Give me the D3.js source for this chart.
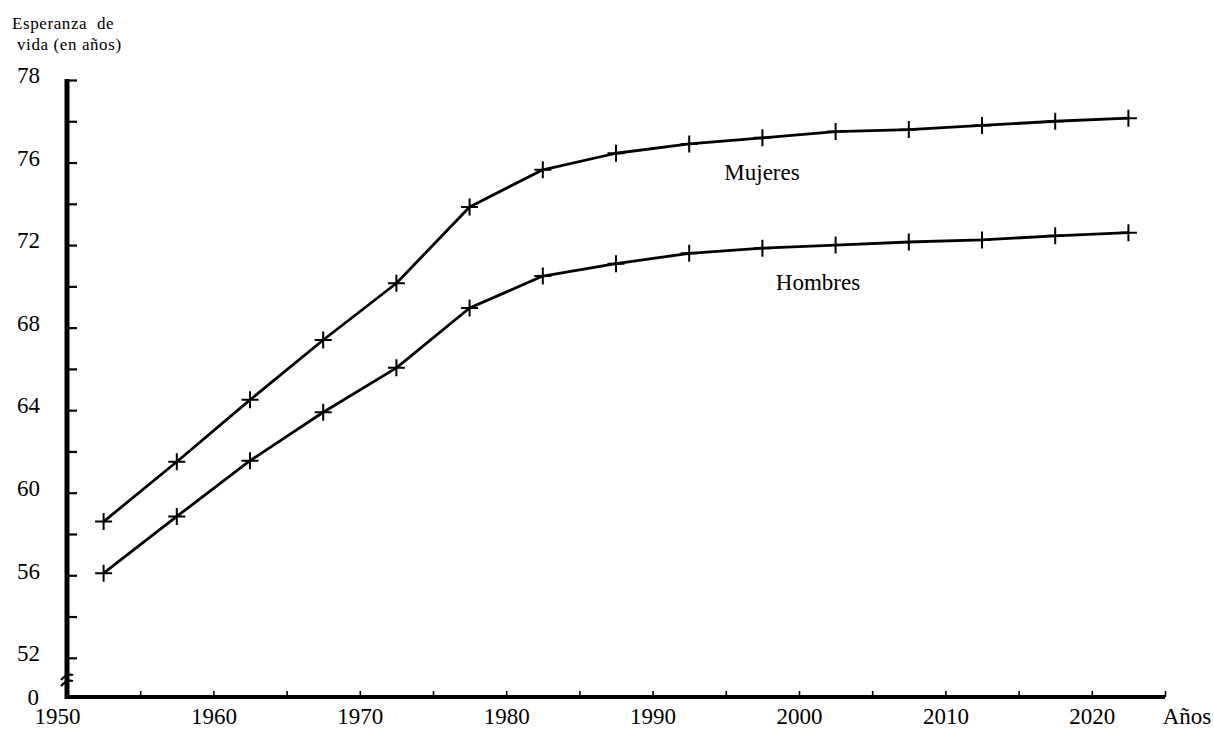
<!DOCTYPE html>
<html>
<head>
<meta charset="utf-8">
<script src="https://cdn.jsdelivr.net/npm/d3@7"></script>
<style>
  body { margin: 0; background: #fff; }
  svg text { font-family: "Liberation Serif", "Times New Roman", serif; fill: #000; }
</style>
</head>
<body>
<svg id="chart" width="1214" height="732"></svg>
<script>
// data (5-year period midpoints)
const years = [1952.5, 1957.5, 1962.5, 1967.5, 1972.5, 1977.5, 1982.5, 1987.5,
               1992.5, 1997.5, 2002.5, 2007.5, 2012.5, 2017.5, 2022.5];
const mujeres = [58.6, 61.5, 64.5, 67.4, 70.15, 73.85, 75.65, 76.45,
                 76.9, 77.2, 77.5, 77.6, 77.8, 78.0, 78.15];
const hombres = [56.1, 58.85, 61.55, 63.9, 66.05, 68.95, 70.5, 71.1,
                 71.6, 71.85, 72.0, 72.15, 72.25, 72.45, 72.6];

// axis ticks / labels (the top label in the original reads 78)
const xLabelYears = [1950, 1960, 1970, 1980, 1990, 2000, 2010, 2020];
const xMinorYears = [1955, 1960, 1965, 1970, 1975, 1980, 1985, 1990, 1995,
                     2000, 2005, 2010, 2015, 2020, 2025];
const yMinorTicks = [52, 54, 56, 58, 60, 62, 64, 66, 68, 70, 72, 74, 76, 78, 80];
const yLabelValues = [52, 56, 60, 64, 68, 72, 76, 80];
const yLabelTexts = ["52", "56", "60", "64", "68", "72", "76", "78"];

const svg = d3.select("#chart");

// scales
const x = d3.scaleLinear().domain([1950, 2025]).range([67, 1165]);
const y = d3.scaleLinear().domain([50.1, 80]).range([697, 80]);
const x0 = x(1950), yBase = y(50.1);

// y ticks (inward, to the right)
svg.append("g")
    .attr("transform", `translate(${x0},0)`)
    .call(d3.axisRight(y).tickValues(yMinorTicks).tickSize(10).tickFormat(""))
    .call(g => g.select(".domain").remove())
    .call(g => g.selectAll(".tick line").attr("stroke", "#000").attr("stroke-width", 2.2));

// y labels
svg.append("g")
    .attr("transform", `translate(${x0},0)`)
    .call(d3.axisLeft(y).tickValues(yLabelValues).tickSize(0).tickPadding(27)
      .tickFormat((d, i) => yLabelTexts[i]))
    .call(g => g.select(".domain").remove())
    .call(g => g.selectAll(".tick text")
      .attr("dy", "0.12em")
      .style("font-size", "23px"));

// "0" at the origin
svg.append("text")
    .attr("x", x0 - 28)
    .attr("y", yBase + 8)
    .attr("text-anchor", "end")
    .style("font-size", "23px")
    .text("0");

// x minor ticks (upward)
svg.append("g")
    .attr("transform", `translate(0,${yBase})`)
    .call(d3.axisTop(x).tickValues(xMinorYears).tickSize(6).tickFormat(""))
    .call(g => g.select(".domain").remove())
    .call(g => g.selectAll(".tick line").attr("stroke", "#000").attr("stroke-width", 1.6));

// x labels
svg.append("g")
    .attr("transform", `translate(0,${yBase})`)
    .call(d3.axisBottom(x).tickValues(xLabelYears).tickSize(0).tickPadding(11)
      .tickFormat(d3.format("d")))
    .call(g => g.select(".domain").remove())
    .call(g => g.selectAll(".tick text").style("font-size", "23px"))
    .call(g => g.selectAll(".tick").filter(d => d === 1950)
      .select("text").attr("dx", -10));

// thick axis lines
svg.append("line")
    .attr("x1", x0).attr("x2", x0)
    .attr("y1", y(80) - 1).attr("y2", yBase + 2)
    .attr("stroke", "#000").attr("stroke-width", 5);
svg.append("line")
    .attr("x1", x0 - 2).attr("x2", x(2025))
    .attr("y1", yBase).attr("y2", yBase)
    .attr("stroke", "#000").attr("stroke-width", 4);

// axis break mark
svg.append("path")
    .attr("d", `M${x0 - 6},${yBase - 17} q6,-7 12,-5 M${x0 - 6},${yBase - 11} q6,-7 12,-5`)
    .attr("fill", "none")
    .attr("stroke", "#000")
    .attr("stroke-width", 2.2);

// lines + cross markers
const series = [
  { name: "Mujeres", values: mujeres },
  { name: "Hombres", values: hombres }
];

const line = d3.line()
    .x((d, i) => x(years[i]))
    .y(d => y(d));

series.forEach(s => {
  svg.append("path")
      .datum(s.values)
      .attr("d", line)
      .attr("fill", "none")
      .attr("stroke", "#000")
      .attr("stroke-width", 2.8)
      .attr("stroke-linejoin", "round");

  const arm = 8.5;
  svg.append("g")
    .selectAll("path")
    .data(s.values)
    .join("path")
      .attr("d", (d, i) => {
        const cx = x(years[i]), cy = y(d);
        return `M${cx - arm},${cy} h${2 * arm} M${cx},${cy - arm} v${2 * arm}`;
      })
      .attr("stroke", "#000")
      .attr("stroke-width", 2);
});

// series labels
svg.append("text")
    .attr("x", 762).attr("y", 180)
    .attr("text-anchor", "middle")
    .style("font-size", "23px")
    .text("Mujeres");
svg.append("text")
    .attr("x", 818).attr("y", 290)
    .attr("text-anchor", "middle")
    .style("font-size", "23px")
    .text("Hombres");

// axis titles
svg.append("text")
    .attr("x", 12).attr("y", 29)
    .style("font-size", "17px")
    .style("letter-spacing", "0.6px")
    .style("white-space", "pre")
    .text("Esperanza  de");
svg.append("text")
    .attr("x", 17).attr("y", 50)
    .style("font-size", "17px")
    .style("letter-spacing", "0.6px")
    .text("vida (en años)");
svg.append("text")
    .attr("x", 1187).attr("y", 724)
    .attr("text-anchor", "middle")
    .style("font-size", "23px")
    .text("Años");
</script>
</body>
</html>
